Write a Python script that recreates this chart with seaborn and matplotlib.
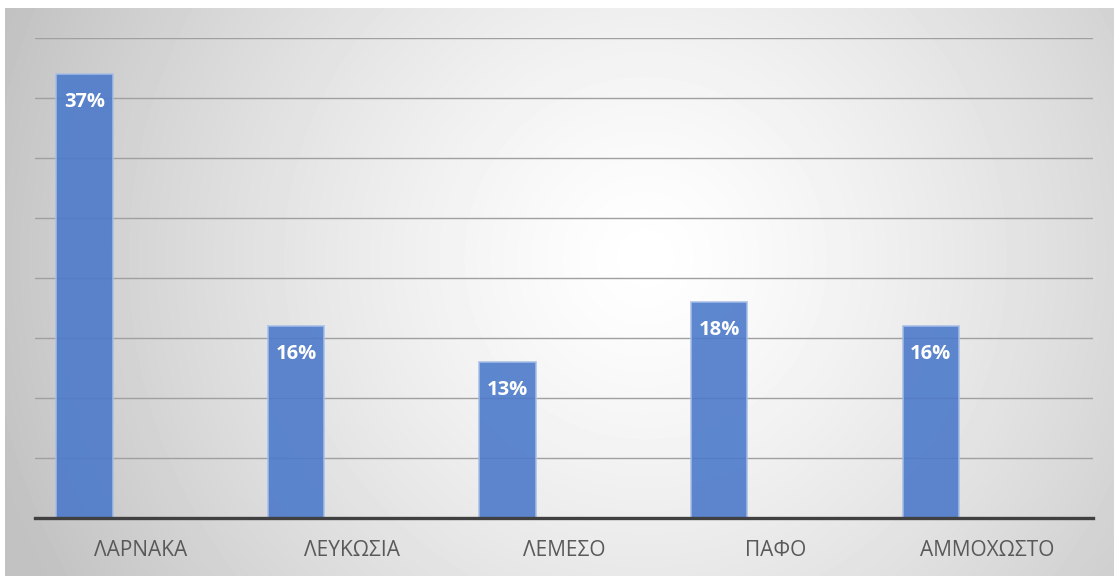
import numpy as np
import pandas as pd
import matplotlib
matplotlib.use("Agg")
import matplotlib.pyplot as plt
import seaborn as sns

# Data (percent); the chart reserves room for three series,
# only the first holds values
regions = ["ΛΑΡΝΑΚΑ", "ΛΕΥΚΩΣΙΑ", "ΛΕΜΕΣΟ", "ΠΑΦΟ", "ΑΜΜΟΧΩΣΤΟ"]
series_1 = [37, 16, 13, 18, 16]
series_2 = [None, None, None, None, None]
series_3 = [None, None, None, None, None]
series_names = ["Σειρά 1", "Σειρά 2", "Σειρά 3"]
y_ticks = [0, 5, 10, 15, 20, 25, 30, 35, 40]

BAR_COLOR = "#4C7ACA"
EDGE_COLOR = "#A7BEE6"
GRID_COLOR = "#a0a0a0"
AXIS_COLOR = "#404040"
TEXT_COLOR = "#595959"

sns.set_theme(style="white")
plt.rcParams["font.family"] = ["Open Sans", "DejaVu Sans"]

W, H = 1117, 576
fig = plt.figure(figsize=(W / 100, H / 100), dpi=100)
fig.patch.set_facecolor("white")

# radial grey-to-white background
bg = fig.add_axes([5 / W, 0, (1114 - 5) / W, (576 - 8) / H])
yy, xx = np.mgrid[0:568, 0:1109]
dist = np.hypot(xx - 640, yy - 250) / 680
shade = np.clip(1.0 - 0.24 * np.clip(dist, 0, 1) ** 1.3, 0, 1)
bg.imshow(shade, cmap="gray", vmin=0, vmax=1, aspect="auto", interpolation="bilinear")
bg.axis("off")

ax = fig.add_axes([35 / W, 58 / H, (1093 - 35) / W, (518 - 38) / H])
ax.patch.set_alpha(0)

frames = []
for name, vals in zip(series_names, [series_1, series_2, series_3]):
    frames.append(pd.DataFrame({"region": regions, "share": pd.array(vals, dtype="Float64"),
                                "series": name}))
df = pd.concat(frames, ignore_index=True)
df["share"] = df["share"].astype(float)

sns.barplot(data=df, x="region", y="share", hue="series", hue_order=series_names,
            palette=[BAR_COLOR] * 3, saturation=1, alpha=0.9, edgecolor=EDGE_COLOR,
            linewidth=1.2, legend=False, ax=ax, zorder=3, errorbar=None)

ax.set_ylim(0, 40)
ax.set_yticks(y_ticks)
ax.yaxis.grid(True, color=GRID_COLOR, linewidth=1.0, zorder=0)
ax.set_axisbelow(True)
ax.tick_params(axis="y", left=False, labelleft=False)
ax.tick_params(axis="x", bottom=False, labelsize=15, labelcolor=TEXT_COLOR, pad=10)
ax.set_xlabel("")
ax.set_ylabel("")
for s in ["top", "right", "left"]:
    ax.spines[s].set_visible(False)
ax.spines["bottom"].set_color(AXIS_COLOR)
ax.spines["bottom"].set_linewidth(2.4)
ax.spines["bottom"].set_zorder(5)

for bar in ax.containers[0]:
    h = bar.get_height()
    if np.isnan(h):
        continue
    ax.annotate(f"{h:.0f}%", xy=(bar.get_x() + bar.get_width() / 2, h),
                xytext=(0, -20), textcoords="offset points",
                ha="center", va="center", color="white", fontsize=14.5,
                fontweight="bold", zorder=6)

fig.savefig("out.png", dpi=100)
